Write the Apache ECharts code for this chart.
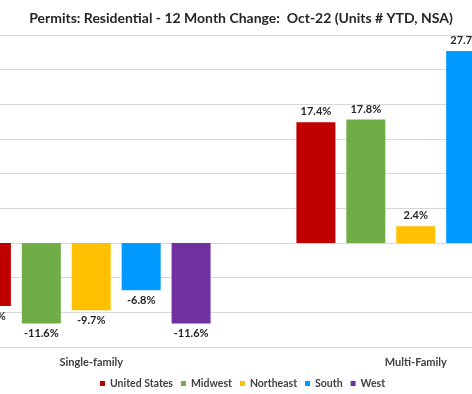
<!DOCTYPE html>
<html><head><meta charset="utf-8">
<script src="https://cdn.jsdelivr.net/npm/echarts@6/dist/echarts.min.js"></script>
<style>
html,body{margin:0;padding:0;background:#fff;overflow:hidden}
#wrap{width:472px;height:394px;overflow:hidden;position:relative}
#c{width:649px;height:394px;position:absolute;left:-71px;top:0}
</style>
</head><body><div id="wrap"><div id="c"></div></div>
<script>
const categories = ['Single-family', 'Multi-Family'];
const seriesNames = ['United States', 'Midwest', 'Northeast', 'South', 'West'];
const unitedStates = [-9.1, 17.4];
const midwest = [-11.6, 17.8];
const northeast = [-9.7, 2.4];
const south = [-6.8, 27.7];
const west = [-11.6, null]; // multi-family West bar lies outside the visible crop
const colors = ['#C00000', '#70AD47', '#FFC000', '#0099FF', '#7030A0'];
const values = [unitedStates, midwest, northeast, south, west];

const OFFSET = 71; // chart canvas is shifted left; visible area starts here
const chart = echarts.init(document.getElementById('c'), null, {renderer: 'canvas'});
const font = 'Lato, "Open Sans", sans-serif';
chart.setOption({
  animation: false,
  title: {
    text: 'Permits: Residential - 12 Month Change:  Oct-22 (Units # YTD, NSA)',
    left: OFFSET + 236, top: 6, textAlign: 'center',
    textStyle: {fontFamily: font, fontSize: 14, fontWeight: 'bold', color: '#262626'}
  },
  legend: {
    bottom: 0, left: OFFSET + 95,
    itemWidth: 5, itemHeight: 5, itemGap: 8,
    icon: 'rect',
    textStyle: {fontFamily: font, fontSize: 10.5, fontWeight: 'bold', color: '#404040'},
    data: seriesNames
  },
  grid: {left: 0, right: 0, top: 35, bottom: 47, containLabel: false},
  xAxis: {
    type: 'category', data: categories,
    axisLine: {show: false}, axisTick: {show: false},
    axisLabel: {fontFamily: font, fontSize: 11, fontWeight: 'bold', color: '#404040', margin: 10}
  },
  yAxis: {
    type: 'value', min: -15, max: 30, interval: 5,
    axisLabel: {show: false}, axisLine: {show: false}, axisTick: {show: false},
    splitLine: {lineStyle: {color: '#D9D9D9', width: 1}}
  },
  series: seriesNames.map((name, i) => ({
    name, type: 'bar', barWidth: 39, barGap: '28%',
    itemStyle: {color: colors[i]},
    label: {
      show: true, distance: 5,
      fontFamily: font, fontSize: 11, fontWeight: 'bold', color: '#262626',
      formatter: p => p.value == null ? '' : p.value.toFixed(1) + '%'
    },
    data: values[i].map(v => ({value: v, label: {position: v != null && v < 0 ? 'bottom' : 'top'}}))
  }))
});
</script></body></html>
